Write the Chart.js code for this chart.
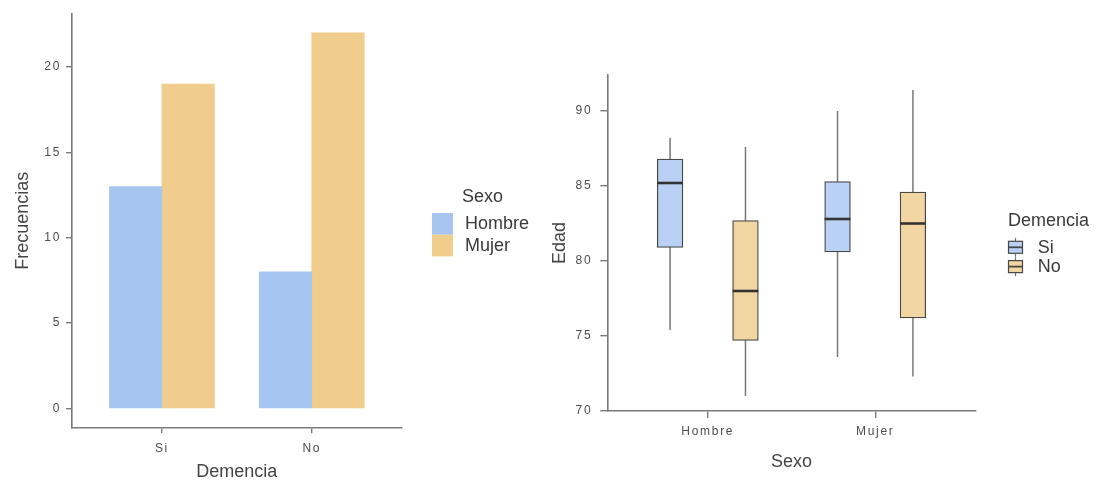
<!DOCTYPE html>
<html>
<head>
<meta charset="utf-8">
<script src="https://cdn.jsdelivr.net/npm/chart.js@4.4.1/dist/chart.umd.min.js"></script>
<style>
  html, body { margin: 0; padding: 0; background: #ffffff; width: 1096px; height: 486px; overflow: hidden; }
  canvas { position: absolute; top: 0; }
  #bars { left: 0; }
  #boxes { left: 548px; }
</style>
</head>
<body>
<canvas id="bars" width="548" height="486"></canvas>
<canvas id="boxes" width="548" height="486"></canvas>
<script>
// Frecuencias por demencia y sexo
const demenciaCats = ['Si', 'No'];
const hombreFreq = [13, 8];
const mujerFreq = [19, 22];
const freqTicks = [0, 5, 10, 15, 20];

// Edad por sexo y demencia: mínimo, Q1, mediana, Q3, máximo
const sexoCats = ['Hombre', 'Mujer'];
const siMin = [75.4, 73.6];
const siQ1 = [80.9, 80.6];
const siMed = [85.2, 82.8];
const siQ3 = [86.8, 85.3];
const siMax = [88.2, 90.0];
const noMin = [71.0, 72.3];
const noQ1 = [74.7, 76.2];
const noMed = [78.0, 82.5];
const noQ3 = [82.7, 84.6];
const noMax = [87.6, 91.4];
const edadTicks = [70, 75, 80, 85, 90];

const FONT = "'Liberation Sans', Arial, sans-serif";
const AXIS_COL = '#7a7a7a';
const TICK_TXT = '#4d4d4d';
const TITLE_TXT = '#444444';
const HOMBRE_COL = '#a7c5f1';
const MUJER_COL = '#f0cd8c';
const SI_FILL = '#b8d1f4';
const NO_FILL = '#f2d6a1';
const BOX_EDGE = '#484848';
const WHISKER = '#777777';

function xAxis(cats, height, padding, tickLength) {
  return {
    type: 'linear', min: 0.4, max: 2.6, offset: false,
    afterBuildTicks: s => { s.ticks = cats.map((c, i) => ({ value: i + 1 })); },
    afterFit: s => { s.height = height; },
    ticks: { callback: v => cats[v - 1], color: TICK_TXT, font: { family: FONT, size: 12 },
             padding: padding, maxRotation: 0, autoSkip: false },
    grid: { display: true, offset: false, drawOnChartArea: false, drawTicks: true, tickLength: tickLength,
            color: AXIS_COL, lineWidth: 1.4 },
    border: { display: true, color: AXIS_COL, width: 1.6 }
  };
}

function yAxis(min, max, tickVals, width, padding, tickLength) {
  return {
    type: 'linear', min: min, max: max,
    afterBuildTicks: s => { s.ticks = tickVals.map(v => ({ value: v })); },
    afterFit: s => { s.width = width; },
    ticks: { color: TICK_TXT, font: { family: FONT, size: 12 }, padding: padding },
    grid: { display: true, drawOnChartArea: false, drawTicks: true, tickLength: tickLength,
            color: AXIS_COL, lineWidth: 1.4 },
    border: { display: true, color: AXIS_COL, width: 1.6 }
  };
}

// small tick text is set slightly spaced; titles and legends are drawn unspaced
const spacing = {
  id: 'spacing',
  beforeDraw(chart) { chart.ctx.letterSpacing = '1.7px'; },
  afterDraw(chart) { chart.ctx.letterSpacing = '0px'; }
};

function axisTitles(ctx, area, xTitle, xBaseline, yTitle, yBaseline) {
  ctx.save();
  ctx.fillStyle = TITLE_TXT;
  ctx.font = '18px ' + FONT;
  ctx.textAlign = 'center';
  ctx.textBaseline = 'alphabetic';
  ctx.fillText(xTitle, (area.left + area.right) / 2, xBaseline);
  ctx.translate(yBaseline, (area.top + area.bottom) / 2);
  ctx.rotate(-Math.PI / 2);
  ctx.fillText(yTitle, 0, 0);
  ctx.restore();
}

const barDecor = {
  id: 'barDecor',
  afterDraw(chart) {
    const ctx = chart.ctx;
    ctx.letterSpacing = '0px';
    axisTitles(ctx, chart.chartArea, 'Demencia', 476.5, 'Frecuencias', 28);
    // legend
    ctx.save();
    ctx.font = '18px ' + FONT;
    ctx.fillStyle = '#3a3a3a';
    ctx.textAlign = 'left';
    ctx.textBaseline = 'alphabetic';
    ctx.fillText('Sexo', 462, 201.5);
    chart.data.datasets.forEach((ds, i) => {
      const top = 213 + i * 21.7;
      ctx.fillStyle = ds.backgroundColor;
      ctx.fillRect(432, top, 21, 21.7);
      ctx.fillStyle = '#3a3a3a';
      ctx.textBaseline = 'middle';
      ctx.fillText(ds.label, 465, top + 11.5);
    });
    ctx.restore();
  }
};

new Chart(document.getElementById('bars'), {
  type: 'bar',
  data: {
    datasets: [
      { label: 'Hombre', data: hombreFreq.map((v, i) => ({ x: i + 1, y: v })),
        backgroundColor: HOMBRE_COL, barThickness: 52.5 },
      { label: 'Mujer', data: mujerFreq.map((v, i) => ({ x: i + 1, y: v })),
        backgroundColor: MUJER_COL, barThickness: 52.5 }
    ]
  },
  options: {
    responsive: false, animation: false, devicePixelRatio: 1,
    layout: { padding: { top: 14, right: 146.3, left: 0, bottom: 0 } },
    plugins: { legend: { display: false }, tooltip: { enabled: false } },
    scales: {
      x: xAxis(demenciaCats, 58.7, 8, 6),
      y: yAxis(-1.1, 23.1, freqTicks, 72, 5, 6)
    }
  },
  plugins: [spacing, barDecor]
});

// whiskers behind each box, medians on top
const boxParts = {
  id: 'boxParts',
  beforeDatasetsDraw(chart) {
    const ctx = chart.ctx, y = chart.scales.y;
    ctx.save();
    ctx.strokeStyle = WHISKER;
    ctx.lineWidth = 1.5;
    chart.data.datasets.forEach((ds, d) => {
      chart.getDatasetMeta(d).data.forEach((bar, i) => {
        ctx.beginPath();
        ctx.moveTo(bar.x, y.getPixelForValue(ds.stats.min[i]));
        ctx.lineTo(bar.x, y.getPixelForValue(ds.stats.max[i]));
        ctx.stroke();
      });
    });
    ctx.restore();
  },
  afterDatasetsDraw(chart) {
    const ctx = chart.ctx, y = chart.scales.y;
    ctx.save();
    ctx.strokeStyle = '#333333';
    ctx.lineWidth = 2.6;
    chart.data.datasets.forEach((ds, d) => {
      chart.getDatasetMeta(d).data.forEach((bar, i) => {
        const py = y.getPixelForValue(ds.stats.med[i]);
        ctx.beginPath();
        ctx.moveTo(bar.x - bar.width / 2, py);
        ctx.lineTo(bar.x + bar.width / 2, py);
        ctx.stroke();
      });
    });
    ctx.restore();
  },
  afterDraw(chart) {
    const ctx = chart.ctx;
    ctx.letterSpacing = '0px';
    axisTitles(ctx, chart.chartArea, 'Sexo', 466.5, 'Edad', 17);
    // legend
    ctx.save();
    ctx.font = '18px ' + FONT;
    ctx.fillStyle = '#3a3a3a';
    ctx.textAlign = 'left';
    ctx.textBaseline = 'alphabetic';
    ctx.fillText('Demencia', 460, 226);
    chart.data.datasets.forEach((ds, i) => {
      const cy = 247.3 + i * 19.3;
      const gx = 460.5, gw = 14;
      ctx.strokeStyle = WHISKER;
      ctx.lineWidth = 1.2;
      ctx.beginPath();
      ctx.moveTo(gx + gw / 2, cy - 9.5);
      ctx.lineTo(gx + gw / 2, cy + 9.5);
      ctx.stroke();
      ctx.fillStyle = ds.backgroundColor;
      ctx.fillRect(gx, cy - 6, gw, 12);
      ctx.strokeStyle = BOX_EDGE;
      ctx.strokeRect(gx, cy - 6, gw, 12);
      ctx.lineWidth = 1.8;
      ctx.beginPath();
      ctx.moveTo(gx, cy);
      ctx.lineTo(gx + gw, cy);
      ctx.stroke();
      ctx.fillStyle = '#3a3a3a';
      ctx.textBaseline = 'middle';
      ctx.fillText(ds.label, 489.7, cy + 0.5);
    });
    ctx.restore();
  }
};

function boxSeries(label, q1, q3, mn, med, mx, fill) {
  return {
    label: label,
    data: q1.map((v, i) => ({ x: i + 1, y: [v, q3[i]] })),
    stats: { min: mn, med: med, max: mx },
    backgroundColor: fill, borderColor: BOX_EDGE, borderWidth: 1.3, borderSkipped: false,
    barThickness: 75.4, maxBarThickness: 25.7
  };
}

new Chart(document.getElementById('boxes'), {
  type: 'bar',
  data: {
    datasets: [
      boxSeries('Si', siQ1, siQ3, siMin, siMed, siMax, SI_FILL),
      boxSeries('No', noQ1, noQ3, noMin, noMed, noMax, NO_FILL)
    ]
  },
  options: {
    responsive: false, animation: false, devicePixelRatio: 1,
    layout: { padding: { top: 75, right: 120.3, left: 0, bottom: 0 } },
    plugins: { legend: { display: false }, tooltip: { enabled: false } },
    scales: {
      x: xAxis(sexoCats, 75, 6, 7),
      y: yAxis(70, 92.4, edadTicks, 59.3, 8, 7)
    }
  },
  plugins: [spacing, boxParts]
});
</script>
</body>
</html>
